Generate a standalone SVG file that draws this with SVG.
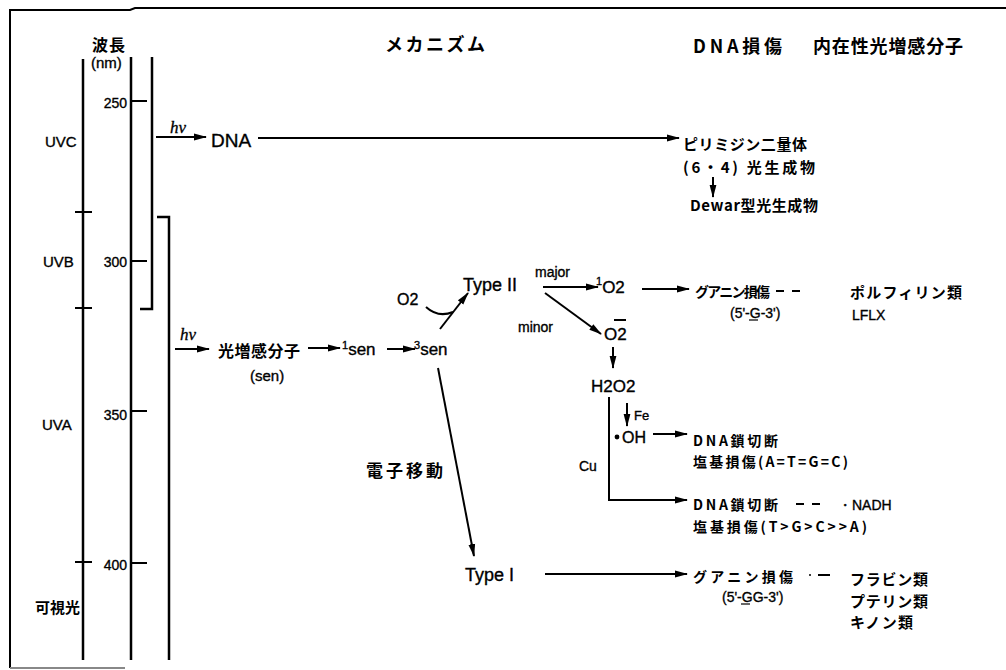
<svg xmlns="http://www.w3.org/2000/svg" width="1006" height="670" viewBox="0 0 1006 670">
  <style>
    .jp { font-family: "Noto Sans CJK JP", "Noto Sans", sans-serif; font-weight: 700; fill: #000; }
    .lat { font-family: "Liberation Sans", Arial, sans-serif; fill: #000; stroke: #000; stroke-width: 0.35; }
    .hv { font-family: "Liberation Serif", serif; font-style: italic; font-size: 17px; fill: #000; stroke: #000; stroke-width: 0.3; }
    .ax { stroke: #000; stroke-width: 2.5; fill: none; }
    .ln { stroke: #000; stroke-width: 2; fill: none; }
    .dash { stroke: #000; stroke-width: 2; stroke-dasharray: 8 8; fill: none; }
  </style>
  <defs>
    <marker id="ah" markerWidth="13" markerHeight="8" refX="12" refY="4" orient="auto" markerUnits="userSpaceOnUse">
      <path d="M0,0.6 L13,4 L0,7.4 z" fill="#000"/>
    </marker>
  </defs>

  <rect width="1006" height="670" fill="#fff"/>

  <!-- page frame -->
  <g id="frame">
    <path d="M10,668 V10 H130 L135,8 H1006" class="ln"/>
    <path d="M10,668 H125" stroke="#888" stroke-width="2"/>
  </g>

  <!-- wavelength scale -->
  <g id="scale">
    <line x1="83" y1="59" x2="83" y2="660" class="ax"/>
    <line x1="75" y1="212" x2="92" y2="212" class="ln"/>
    <line x1="75" y1="308" x2="92" y2="308" class="ln"/>
    <line x1="75" y1="562" x2="92" y2="562" class="ln"/>
    <line x1="131" y1="57" x2="131" y2="660" class="ax"/>
    <line x1="131" y1="101" x2="147" y2="101" class="ln"/>
    <line x1="131" y1="261" x2="147" y2="261" class="ln"/>
    <line x1="131" y1="411" x2="147" y2="411" class="ln"/>
    <line x1="131" y1="563" x2="147" y2="563" class="ln"/>
    <path d="M152,57 V309 H140" class="ax"/>
    <path d="M157,217 H169 V660" class="ax"/>
    <text x="92" y="51" class="jp" font-size="16" textLength="33">波長</text>
    <text x="91" y="68" class="lat" font-size="15">(nm)</text>
    <text x="127" y="108" class="lat" font-size="14" text-anchor="end">250</text>
    <text x="127" y="267" class="lat" font-size="14" text-anchor="end">300</text>
    <text x="127" y="420" class="lat" font-size="14" text-anchor="end">350</text>
    <text x="127" y="570" class="lat" font-size="14" text-anchor="end">400</text>
    <text x="45" y="147" class="lat" font-size="15">UVC</text>
    <text x="43" y="267" class="lat" font-size="15">UVB</text>
    <text x="42" y="430" class="lat" font-size="15">UVA</text>
    <text x="35" y="613" class="jp" font-size="15" textLength="45">可視光</text>
  </g>

  <!-- column headers -->
  <g id="headers">
    <text x="385" y="51" class="jp" font-size="18" textLength="100">メカニズム</text>
    <text x="693" y="53" class="jp" font-size="18" textLength="89">DNA損傷</text>
    <text x="813" y="53" class="jp" font-size="18" textLength="150">内在性光増感分子</text>
  </g>

  <!-- connectors -->
  <g id="connectors">
    <path d="M156,137 H206" class="ln" marker-end="url(#ah)"/>
    <path d="M258,138 H679" class="ln" marker-end="url(#ah)"/>
    <path d="M713,177 V197" class="ln" marker-end="url(#ah)"/>
    <path d="M175,349 H209" class="ln" marker-end="url(#ah)"/>
    <path d="M308,348 H340" class="ln" marker-end="url(#ah)"/>
    <path d="M387,349 H415" class="ln" marker-end="url(#ah)"/>
    <path d="M440,329 L468,293" class="ln" marker-end="url(#ah)"/>
    <path d="M426,307 Q438,318 453,312" class="ln"/>
    <path d="M543,287 H598" class="ln" marker-end="url(#ah)"/>
    <path d="M545,293 L601,334" class="ln" marker-end="url(#ah)"/>
    <path d="M642,289 H689" class="ln" marker-end="url(#ah)"/>
    <path d="M613,347 V368" class="ln" marker-end="url(#ah)"/>
    <path d="M609,397 V500 H687" class="ln" marker-end="url(#ah)"/>
    <path d="M627,403 V426" class="ln" marker-end="url(#ah)"/>
    <path d="M653,434 H687" class="ln" marker-end="url(#ah)"/>
    <path d="M438,368 L474,556" class="ln" marker-end="url(#ah)"/>
    <path d="M545,574 H687" class="ln" marker-end="url(#ah)"/>
    <path d="M776,291 H800" class="dash"/>
    <path d="M796,504 H828" class="dash"/>
    <path d="M818,575 H830" class="ln"/>
    <circle cx="810" cy="575" r="1" fill="#000"/>
  </g>

  <!-- photon labels -->
  <g id="hv-uvc"><text x="170" y="133" class="hv">hν</text></g>
  <g id="hv-uva"><text x="180" y="340" class="hv">hν</text></g>

  <g id="dna"><text x="211" y="147" class="lat" font-size="19">DNA</text></g>

  <g id="pyrimidine">
    <text x="683" y="150" class="jp" font-size="15" textLength="124">ピリミジン二量体</text>
    <text x="683" y="173" class="jp" font-size="15" textLength="132">(6・4) 光生成物</text>
    <text x="690" y="211" class="jp" font-size="15" font-weight="400" textLength="128">Dewar型光生成物</text>
  </g>

  <g id="sensitizer">
    <text x="218" y="357" class="jp" font-size="16" textLength="82">光増感分子</text>
    <text x="250" y="381" class="lat" font-size="15">(sen)</text>
  </g>

  <g id="sen1"><text x="342" y="355" class="lat" font-size="17"><tspan font-size="11" dy="-6">1</tspan><tspan dy="6">sen</tspan></text></g>
  <g id="sen3"><text x="414" y="355" class="lat" font-size="17"><tspan font-size="11" dy="-6">3</tspan><tspan dy="6">sen</tspan></text></g>

  <g id="o2-in"><text x="397" y="305" class="lat" font-size="16">O2</text></g>

  <g id="type2"><text x="463" y="291" class="lat" font-size="18">Type II</text></g>
  <g id="major"><text x="535" y="277" class="lat" font-size="14">major</text></g>
  <g id="minor"><text x="518" y="332" class="lat" font-size="14">minor</text></g>

  <g id="singlet-o2"><text x="596" y="293" class="lat" font-size="17"><tspan font-size="11" dy="-8">1</tspan><tspan dy="8">O2</tspan></text></g>

  <g id="superoxide">
    <text x="604" y="340" class="lat" font-size="17">O2</text>
    <line x1="614" y1="320" x2="626" y2="320" stroke="#000" stroke-width="2"/>
  </g>

  <g id="h2o2"><text x="591" y="392" class="lat" font-size="17">H2O2</text></g>
  <g id="fe"><text x="634" y="420" class="lat" font-size="13">Fe</text></g>
  <g id="cu"><text x="579" y="471" class="lat" font-size="14">Cu</text></g>
  <g id="oh">
    <circle cx="617" cy="437" r="2.4" fill="#000"/>
    <text x="622" y="443" class="lat" font-size="16">OH</text>
  </g>

  <g id="guanine-g">
    <text x="695" y="297" class="jp" font-size="14" textLength="75">グアニン損傷</text>
    <text x="730" y="318" class="lat" font-size="14">(5'-G-3')</text>
    <line x1="749" y1="320" x2="758" y2="320" stroke="#000" stroke-width="1.2"/>
  </g>

  <g id="porphyrin">
    <text x="850" y="298" class="jp" font-size="15" textLength="112">ポルフィリン類</text>
    <text x="852" y="320" class="lat" font-size="14">LFLX</text>
  </g>

  <g id="strand-oh">
    <text x="693" y="446" class="jp" font-size="14" textLength="85">DNA鎖切断</text>
    <text x="693" y="467" class="jp" font-size="14" textLength="155">塩基損傷(A=T=G=C)</text>
  </g>

  <g id="strand-cu">
    <text x="693" y="510" class="jp" font-size="14" textLength="85">DNA鎖切断</text>
    <text x="838" y="510" class="lat" font-size="14">・NADH</text>
    <text x="693" y="532" class="jp" font-size="14" textLength="174">塩基損傷(T&gt;G&gt;C&gt;&gt;A)</text>
  </g>

  <g id="electron-transfer"><text x="366" y="477" class="jp" font-size="17" textLength="77">電子移動</text></g>

  <g id="type1"><text x="465" y="581" class="lat" font-size="18">Type I</text></g>

  <g id="guanine-gg">
    <text x="693" y="582" class="jp" font-size="14" textLength="100">グアニン損傷</text>
    <text x="722" y="602" class="lat" font-size="14">(5'-GG-3')</text>
    <line x1="741" y1="604" x2="750" y2="604" stroke="#000" stroke-width="1.2"/>
  </g>

  <g id="flavin">
    <text x="850" y="585" class="jp" font-size="15" textLength="78">フラビン類</text>
    <text x="850" y="607" class="jp" font-size="15" textLength="78">プテリン類</text>
    <text x="850" y="628" class="jp" font-size="15" textLength="63">キノン類</text>
  </g>
</svg>
